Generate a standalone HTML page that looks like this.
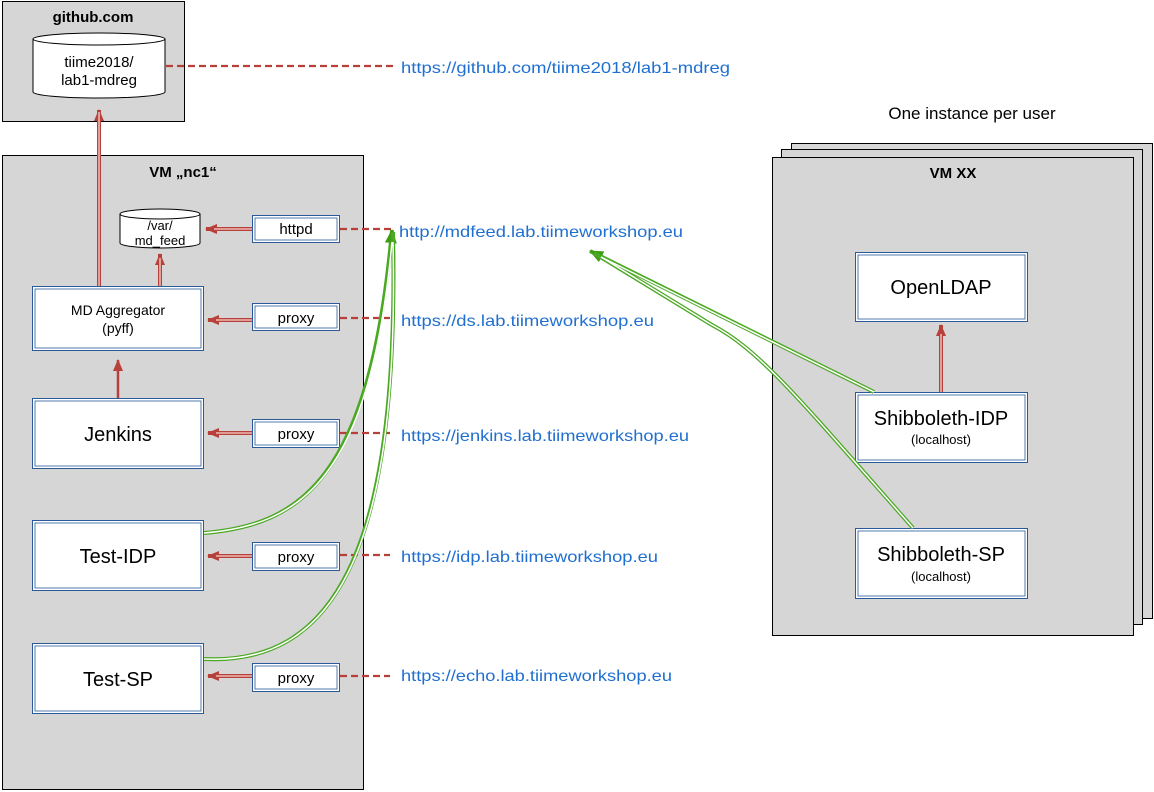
<!DOCTYPE html>
<html><head><meta charset="utf-8"><style>html,body{margin:0;padding:0;background:#fff}svg{display:block}text{font-family:"Liberation Sans",Arial,sans-serif}</style></head>
<body>
<svg width="1154" height="792" viewBox="0 0 1154 792" xmlns="http://www.w3.org/2000/svg">
<defs>
<marker id="ra" viewBox="0 0 12 10" refX="11" refY="5" markerWidth="12" markerHeight="10" markerUnits="userSpaceOnUse" orient="auto"><path d="M0,0 L12,5 L0,10 Z" fill="#b8403a"/></marker>
<marker id="ga" viewBox="0 0 14 12" refX="13" refY="6" markerWidth="14" markerHeight="12" markerUnits="userSpaceOnUse" orient="auto"><path d="M0,0 L14,6 L0,12 Z" fill="#3c9c12"/></marker>
</defs>
<rect x="2.5" y="1.5" width="182" height="120" fill="#d6d6d6" stroke="#000"/>
<text x="93" y="22" font-size="15" font-weight="bold" text-anchor="middle">github.com</text>
<path d="M33,39 L33,92 A66,6 0 0 0 165,92 L165,39" fill="#fff" stroke="#000"/>
<ellipse cx="99" cy="39" rx="66" ry="6" fill="#fff" stroke="#000"/>
<text x="99" y="67" font-size="15" text-anchor="middle">tiime2018/</text>
<text x="99" y="85" font-size="15" text-anchor="middle">lab1-mdreg</text>
<rect x="2.5" y="155.5" width="361" height="634" fill="#d6d6d6" stroke="#000"/>
<text x="183" y="177" font-size="15" font-weight="bold" text-anchor="middle">VM „nc1“</text>
<path d="M120,214 L120,243 A40,5 0 0 0 200,243 L200,214" fill="#fff" stroke="#000"/>
<ellipse cx="160" cy="214" rx="40" ry="5" fill="#fff" stroke="#000"/>
<text x="160" y="230" font-size="13" text-anchor="middle">/var/</text>
<text x="160" y="245" font-size="13" text-anchor="middle">md_feed</text>
<g fill="#fff" stroke="#2a5a9a">
<rect x="252.5" y="215.5" width="87" height="27"/><rect x="255" y="218" width="82" height="22" stroke-width="0.8"/>
<rect x="252.5" y="303.5" width="87" height="27"/><rect x="255" y="306" width="82" height="22" stroke-width="0.8"/>
<rect x="252.5" y="419.5" width="87" height="28"/><rect x="255" y="422" width="82" height="23" stroke-width="0.8"/>
<rect x="252.5" y="542.5" width="87" height="28"/><rect x="255" y="545" width="82" height="23" stroke-width="0.8"/>
<rect x="252.5" y="663.5" width="87" height="28"/><rect x="255" y="666" width="82" height="23" stroke-width="0.8"/>
<rect x="32.5" y="286.5" width="171" height="64"/><rect x="35" y="289" width="166" height="59" stroke-width="0.8"/>
<rect x="32.5" y="398.5" width="171" height="70"/><rect x="35" y="401" width="166" height="65" stroke-width="0.8"/>
<rect x="32.5" y="520.5" width="171" height="70"/><rect x="35" y="523" width="166" height="65" stroke-width="0.8"/>
<rect x="32.5" y="643.5" width="171" height="70"/><rect x="35" y="646" width="166" height="65" stroke-width="0.8"/>
</g>
<g font-size="15" text-anchor="middle">
<text x="296" y="234">httpd</text>
<text x="296" y="323">proxy</text>
<text x="296" y="439">proxy</text>
<text x="296" y="562">proxy</text>
<text x="296" y="683">proxy</text>
<text x="118" y="315" font-size="14">MD Aggregator</text>
<text x="118" y="333" font-size="14">(pyff)</text>
<text x="118" y="441" font-size="20">Jenkins</text>
<text x="118" y="563" font-size="20">Test-IDP</text>
<text x="118" y="686" font-size="20">Test-SP</text>
</g>
<rect x="791.5" y="143.5" width="361" height="475" fill="#d6d6d6" stroke="#000"/>
<rect x="781.5" y="149.5" width="361" height="475" fill="#d6d6d6" stroke="#000"/>
<rect x="772.5" y="157.5" width="361" height="478" fill="#d6d6d6" stroke="#000"/>
<text x="953" y="178" font-size="15" font-weight="bold" text-anchor="middle">VM XX</text>
<text x="972" y="119" font-size="17" text-anchor="middle">One instance per user</text>
<g fill="#fff" stroke="#2a5a9a">
<rect x="855.5" y="252.5" width="172" height="69"/><rect x="858" y="255" width="167" height="64" stroke-width="0.8"/>
<rect x="855.5" y="392.5" width="172" height="70"/><rect x="858" y="395" width="167" height="65" stroke-width="0.8"/>
<rect x="855.5" y="528.5" width="172" height="70"/><rect x="858" y="531" width="167" height="65" stroke-width="0.8"/>
</g>
<g text-anchor="middle">
<text x="941" y="294" font-size="20">OpenLDAP</text>
<text x="941" y="425" font-size="20">Shibboleth-IDP</text>
<text x="941" y="444" font-size="13">(localhost)</text>
<text x="941" y="561" font-size="20">Shibboleth-SP</text>
<text x="941" y="581" font-size="13">(localhost)</text>
</g>
<g fill="none">
<g stroke="#b8403a" stroke-width="4">
<path d="M99,286 L99,110" marker-end="url(#ra)"/>
<path d="M160,286 L160,254" marker-end="url(#ra)"/>
<path d="M252,229 L206,229" marker-end="url(#ra)"/>
<path d="M252,320 L208,320" marker-end="url(#ra)"/>
<path d="M252,433 L208,433" marker-end="url(#ra)"/>
<path d="M252,556 L208,556" marker-end="url(#ra)"/>
<path d="M252,676 L208,676" marker-end="url(#ra)"/>
<path d="M941,392 L941,325" marker-end="url(#ra)"/>
</g>
<g stroke="#edb9b3" stroke-width="1.6">
<path d="M99,286 L99,112"/><path d="M160,286 L160,258"/><path d="M252,229 L214,229"/>
<path d="M252,320 L216,320"/><path d="M252,433 L216,433"/><path d="M252,556 L216,556"/>
<path d="M252,676 L216,676"/><path d="M941,392 L941,334"/>
</g>
<path d="M118,398 L118,360" stroke="#b8403a" stroke-width="2.5" marker-end="url(#ra)"/>
<g stroke="#b8403a" stroke-width="2.2" stroke-dasharray="7,4">
<path d="M166,66 L393,66"/><path d="M340,229 L393,229"/><path d="M340,318 L390,318"/>
<path d="M340,433 L390,433"/><path d="M340,555 L390,555"/><path d="M340,676 L390,676"/>
</g>
<g stroke="#4aa822" stroke-width="4">
<path d="M204,533 C300,525 370,480 392,230" marker-end="url(#ga)"/>
<path d="M204,659 C330,665 400,560 393,232"/>
<path d="M874,392 L590,251" marker-end="url(#ga)"/>
<path d="M913,528 C800,400 760,350 712,325 L594,253"/>
</g>
<g stroke="#fff" stroke-width="1.5">
<path d="M204,533 C300,525 370,480 392,242"/>
<path d="M204,659 C330,665 400,560 393,242"/>
<path d="M874,392 L601,257"/>
<path d="M913,528 C800,400 760,350 712,325 L601,257"/>
</g>
</g>
<g font-size="16" fill="#1f6fd1">
<text x="401" y="73" textLength="329" lengthAdjust="spacingAndGlyphs">https://github.com/tiime2018/lab1-mdreg</text>
<text x="399" y="237" textLength="284" lengthAdjust="spacingAndGlyphs">http://mdfeed.lab.tiimeworkshop.eu</text>
<text x="401" y="326" textLength="253" lengthAdjust="spacingAndGlyphs">https://ds.lab.tiimeworkshop.eu</text>
<text x="401" y="441" textLength="288" lengthAdjust="spacingAndGlyphs">https://jenkins.lab.tiimeworkshop.eu</text>
<text x="401" y="562" textLength="257" lengthAdjust="spacingAndGlyphs">https://idp.lab.tiimeworkshop.eu</text>
<text x="401" y="681" textLength="271" lengthAdjust="spacingAndGlyphs">https://echo.lab.tiimeworkshop.eu</text>
</g>
</svg>
</body></html>
